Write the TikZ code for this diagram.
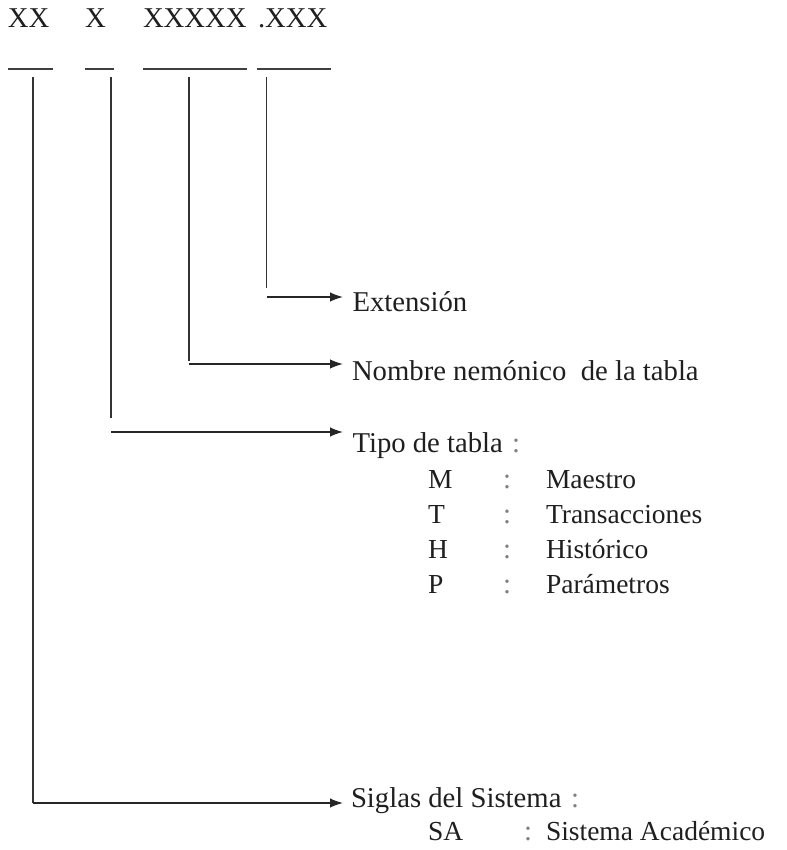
\documentclass[tikz,border=0pt]{standalone}
\usepackage{fontspec}
\setmainfont{Liberation Serif}
\usetikzlibrary{arrows.meta}
\tikzset{
  txt/.style={anchor=base west, inner sep=0pt, outer sep=0pt, font=\fontsize{28.7}{35}\selectfont, text=black!88},
  rowtxt/.style={txt, font=\fontsize{27.5}{33}\selectfont},
  colon/.style={txt, text=black!50},
  uline/.style={line width=1.1pt, draw=black!75},
  vline/.style={line width=1.4pt, draw=black!80},
  arr/.style={line width=1.4pt, draw=black!85, -{Latex[length=13pt,width=9.5pt]}}
}
\begin{document}
\begin{tikzpicture}[x=1pt,y=-1pt]
\useasboundingbox (0,0) rectangle (786,850);
% code segments
\node[txt] (sxx) at (8,28) {XX};
\node[txt] (sx) at (85,28) {X};
\node[txt] (sxxxxx) at (143,28) {XXXXX};
\node[txt] (sext) at (258,28) {.XXX};
% underlines
\coordinate (u1a) at (8,69);   \coordinate (u1b) at (53,69);
\coordinate (u2a) at (85,69);  \coordinate (u2b) at (114,69);
\coordinate (u3a) at (143,69); \coordinate (u3b) at (247,69);
\coordinate (u4a) at (257,69); \coordinate (u4b) at (331,69);
\draw[uline] (u1a) -- (u1b);
\draw[uline] (u2a) -- (u2b);
\draw[uline] (u3a) -- (u3b);
\draw[uline] (u4a) -- (u4b);
% labels
\node[txt] (ext) at (352.5,311) {Extensión};
\node[txt] (nom) at (352,380) {Nombre nemónico \ de la tabla};
\node[txt] (tipo) at (352.5,452) {Tipo de tabla};
\node[colon] (tipoc) at (512,452) {:};
\node[rowtxt] (m) at (428,488) {M};
\node[colon] (mc) at (503,488) {:};
\node[rowtxt] (mw) at (546,488) {Maestro};
\node[rowtxt] (t) at (428,523) {T};
\node[colon] (tc) at (503,523) {:};
\node[rowtxt] (tw) at (546,523) {Transacciones};
\node[rowtxt] (h) at (428,558) {H};
\node[colon] (hc) at (503,558) {:};
\node[rowtxt] (hw) at (546,558) {Histórico};
\node[rowtxt] (p) at (428,593) {P};
\node[colon] (pc) at (503,593) {:};
\node[rowtxt] (pw) at (546,593) {Parámetros};
\node[txt] (sig) at (351,807) {Siglas del Sistema};
\node[colon] (sigc) at (571,807) {:};
\node[rowtxt] (sa) at (428,840) {SA};
\node[colon] (sac) at (524,840) {:};
\node[rowtxt] (saw) at (546,840) {Sistema Académico};
% connector coordinates
\coordinate (v4t) at (266.5,77); \coordinate (v4b) at (266.5,288);
\coordinate (a4s) at (266.5,297); \coordinate (a4e) at (343,297);
\coordinate (v3t) at (189,77); \coordinate (v3b) at (189,361);
\coordinate (a3s) at (189,364); \coordinate (a3e) at (343,364);
\coordinate (v2t) at (111,77); \coordinate (v2b) at (111,418);
\coordinate (a2s) at (111,432); \coordinate (a2e) at (343,432);
\coordinate (v1t) at (33,77); \coordinate (v1b) at (33,803);
\coordinate (a1e) at (343,803);
\draw[vline] (v4t) -- (v4b);
\draw[arr] (a4s) -- (a4e);
\draw[vline] (v3t) -- (v3b);
\draw[arr] (a3s) -- (a3e);
\draw[vline] (v2t) -- (v2b);
\draw[arr] (a2s) -- (a2e);
\draw[vline] (v1t) -- (v1b);
\draw[arr] (v1b) -- (a1e);
\end{tikzpicture}
\end{document}
